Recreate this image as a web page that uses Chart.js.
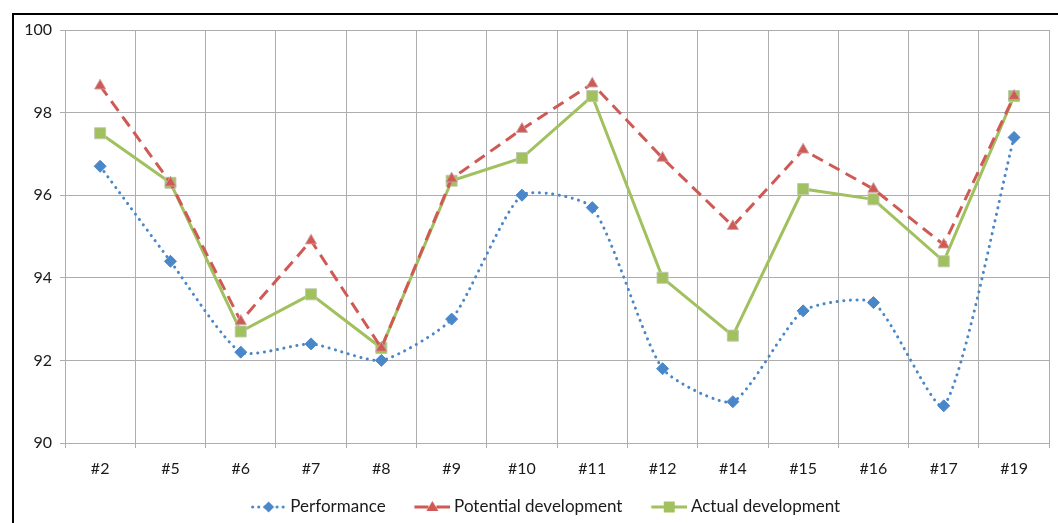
<!DOCTYPE html>
<html>
<head>
<meta charset="utf-8">
<script src="https://cdn.jsdelivr.net/npm/chart.js@4/dist/chart.umd.min.js"></script>
<style>
  html, body { margin: 0; padding: 0; background: #fff; }
  #wrap { position: relative; width: 1058px; height: 523px; }
</style>
</head>
<body>
<div id="wrap"><canvas id="chart" width="1058" height="523"></canvas></div>
<script>
// Categories and series
const categories = ['#2', '#5', '#6', '#7', '#8', '#9', '#10', '#11', '#12', '#14', '#15', '#16', '#17', '#19'];
const performance = [96.7, 94.4, 92.2, 92.4, 92.0, 93.0, 96.0, 95.7, 91.8, 91.0, 93.2, 93.4, 90.9, 97.4];
const potentialDevelopment = [98.65, 96.3, 92.95, 94.9, 92.3, 96.4, 97.6, 98.7, 96.9, 95.25, 97.1, 96.15, 94.8, 98.4];
const actualDevelopment = [97.5, 96.3, 92.7, 93.6, 92.3, 96.35, 96.9, 98.4, 94.0, 92.6, 96.15, 95.9, 94.4, 98.4];
const seriesNames = ['Performance', 'Potential development', 'Actual development'];
const yTicks = [90, 92, 94, 96, 98, 100];

const BLUE = '#4a87c8';
const RED = '#cf5a55';
const GREEN = '#a0c15e';
const FONT = 'Lato, "Open Sans", sans-serif';

// Legend glyph geometry: the glyph box is wider than the drawn sample so the
// sample sits just before its text, with a wide gap to the previous entry.
const LEGEND_FONT = 17;
const LEGEND_PAD = 2.5;
const GLYPH_BOX = 57.5;
const SAMPLE_W = 36;
const CANVAS_W = GLYPH_BOX + 9;

// Small line+marker samples used as legend glyphs
function legendSample(kind) {
  const c = document.createElement('canvas');
  c.width = CANVAS_W; c.height = 16;
  const g = c.getContext('2d');
  const y = 8;
  const x0 = CANVAS_W - SAMPLE_W;       // sample is right-aligned in the canvas
  const cx = x0 + SAMPLE_W / 2;
  g.lineWidth = 3;
  if (kind === 0) {
    g.strokeStyle = BLUE; g.lineCap = 'round'; g.setLineDash([0.1, 6]);
  } else if (kind === 1) {
    g.strokeStyle = RED; g.lineCap = 'butt';
  } else {
    g.strokeStyle = GREEN; g.lineCap = 'butt';
  }
  g.beginPath();
  if (kind === 0) {
    g.moveTo(x0 + 2, y); g.lineTo(x0 + SAMPLE_W - 1, y);
  } else if (kind === 1) {
    g.moveTo(x0, y); g.lineTo(cx - 4, y); g.moveTo(cx + 4, y); g.lineTo(x0 + SAMPLE_W, y);
  } else {
    g.moveTo(x0, y); g.lineTo(x0 + SAMPLE_W, y);
  }
  g.stroke();
  g.setLineDash([]);
  g.beginPath();
  if (kind === 0) {
    g.fillStyle = BLUE;
    g.moveTo(cx, y - 5.5); g.lineTo(cx + 5.5, y); g.lineTo(cx, y + 5.5); g.lineTo(cx - 5.5, y);
  } else if (kind === 1) {
    g.fillStyle = RED;
    g.moveTo(cx, y - 6); g.lineTo(cx + 6, y + 4); g.lineTo(cx - 6, y + 4);
  } else {
    g.fillStyle = GREEN;
    g.rect(cx - 5.5, y - 5.5, 11, 11);
  }
  g.closePath();
  g.fill();
  return c;
}
const samples = [legendSample(0), legendSample(1), legendSample(2)];

// Outer black frame along the top and left edges
const framePlugin = {
  id: 'frame',
  afterDraw(chart) {
    const ctx = chart.ctx;
    ctx.save();
    ctx.strokeStyle = '#000';
    ctx.lineWidth = 2;
    ctx.beginPath();
    ctx.moveTo(13, 530);
    ctx.lineTo(13, 14);
    ctx.lineTo(1070, 14);
    ctx.stroke();
    ctx.restore();
  }
};

new Chart(document.getElementById('chart'), {
  type: 'line',
  data: {
    labels: categories,
    datasets: [
      {
        label: seriesNames[0],
        data: performance,
        borderColor: BLUE,
        backgroundColor: BLUE,
        borderWidth: 3,
        borderDash: [0.1, 6.5],
        borderCapStyle: 'round',
        tension: 0.2,
        pointStyle: 'rectRot',
        pointRadius: 6,
        pointBorderWidth: 1,
        pointBorderColor: BLUE,
        pointBackgroundColor: BLUE
      },
      {
        label: seriesNames[1],
        data: potentialDevelopment,
        borderColor: RED,
        backgroundColor: RED,
        borderWidth: 3,
        borderDash: [12, 7],
        tension: 0,
        pointStyle: 'triangle',
        pointRadius: 6.5,
        pointBorderWidth: 1,
        pointBorderColor: 'rgba(205,160,158,0.9)',
        pointBackgroundColor: RED
      },
      {
        label: seriesNames[2],
        data: actualDevelopment,
        borderColor: GREEN,
        backgroundColor: GREEN,
        borderWidth: 3,
        tension: 0,
        pointStyle: 'rect',
        pointRadius: 7.8,
        pointBorderWidth: 1,
        pointBorderColor: 'rgba(190,200,175,0.9)',
        pointBackgroundColor: GREEN
      }
    ]
  },
  options: {
    responsive: false,
    animation: false,
    events: [],
    layout: { padding: { left: 13, top: 30, right: 6.5, bottom: -2.5 } },
    scales: {
      x: {
        type: 'category',
        offset: true,
        grid: { offset: true, color: '#adadad', lineWidth: 1, tickLength: 5, drawTicks: true },
        border: { color: '#adadad', width: 1 },
        ticks: { color: '#1a1a1a', font: { family: FONT, size: 16 }, padding: 11, maxRotation: 0, autoSkip: false },
        afterFit(scale) {
          scale.height = 53;
          scale.paddingLeft = 0;
          scale.paddingRight = 0;
        }
      },
      y: {
        min: 90,
        max: 100,
        afterBuildTicks(scale) { scale.ticks = yTicks.map(v => ({ value: v })); },
        grid: { color: '#adadad', lineWidth: 1, tickLength: 5 },
        border: { color: '#adadad', width: 1 },
        ticks: { color: '#1a1a1a', font: { family: FONT, size: 16 }, padding: 8 },
        afterFit(scale) { scale.width = 52; }
      }
    },
    plugins: {
      tooltip: { enabled: false },
      legend: {
        position: 'bottom',
        labels: {
          color: '#1a1a1a',
          font: { family: FONT, size: LEGEND_FONT },
          usePointStyle: true,
          pointStyleWidth: GLYPH_BOX,
          padding: LEGEND_PAD,
          generateLabels(chart) {
            const items = Chart.defaults.plugins.legend.labels.generateLabels(chart);
            return items.map((it, i) => Object.assign(it, { pointStyle: samples[i] }));
          }
        }
      }
    }
  },
  plugins: [framePlugin]
});
</script>
</body>
</html>
